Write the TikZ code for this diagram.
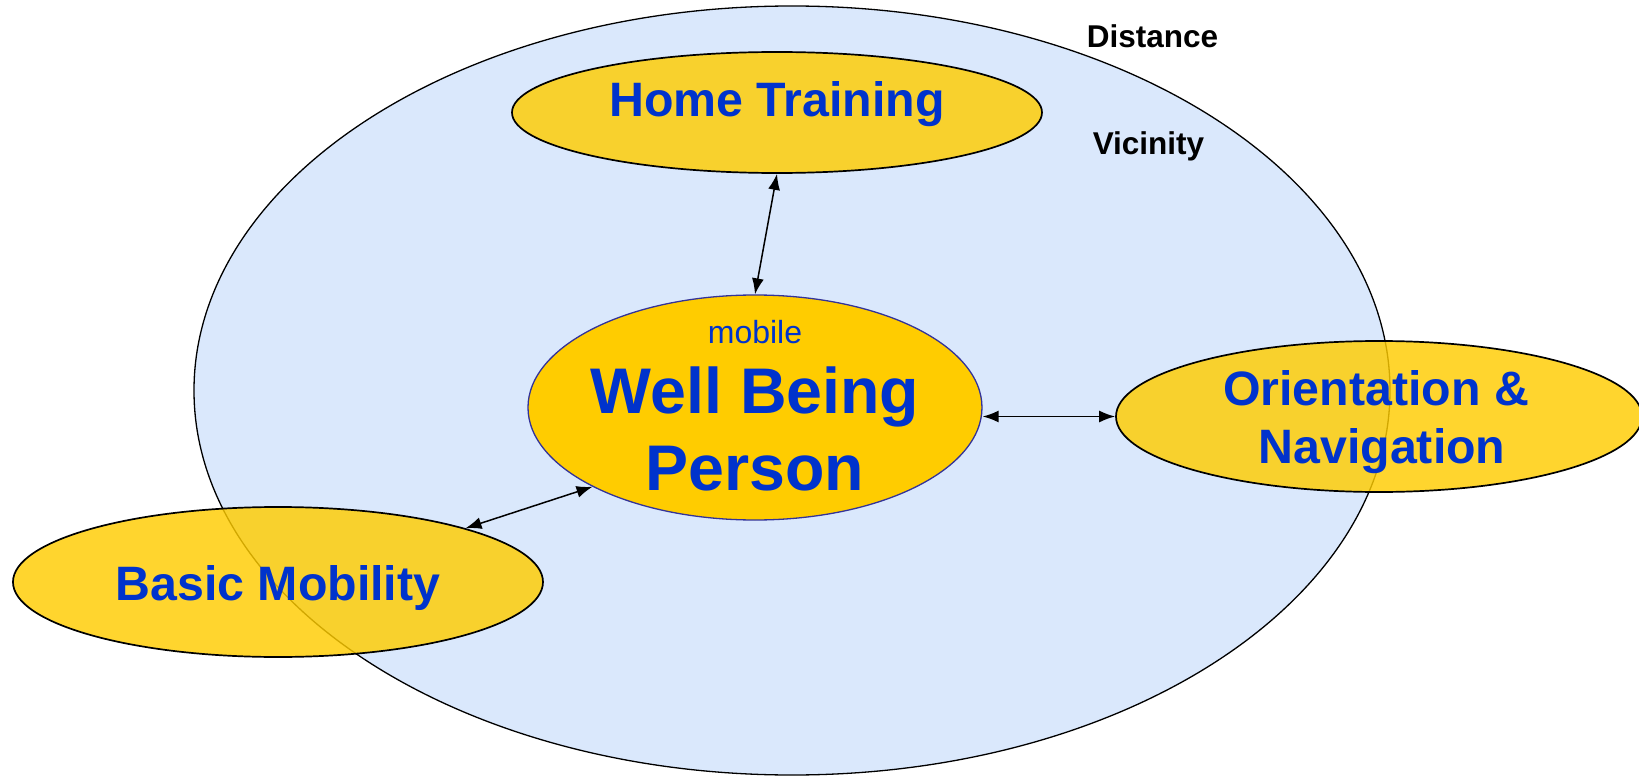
\documentclass[tikz,border=0pt]{standalone}
\usepackage{fontspec}
\setmainfont{Liberation Sans}
\usetikzlibrary{shapes.geometric, arrows.meta}

\definecolor{skyfill}{RGB}{218,232,252}
\definecolor{goldfill}{RGB}{255,204,0}
\definecolor{textblue}{RGB}{0,51,204}
\definecolor{rimblue}{RGB}{51,51,153}

\tikzstyle{vicinity} = [ellipse, minimum width=1196pt, minimum height=769pt, inner sep=0pt, draw=black, line width=1.3pt, fill=skyfill]
\tikzstyle{core} = [ellipse, minimum width=454pt, minimum height=225pt, inner sep=0pt, draw=rimblue, line width=1.3pt, fill=goldfill]
\tikzstyle{area} = [ellipse, minimum width=530pt, minimum height=150pt, inner sep=0pt, draw=black, line width=1.7pt, fill=goldfill, fill opacity=0.82, text opacity=1]
\tikzstyle{areatext} = [font=\fontsize{48.3}{58}\selectfont\bfseries, text=textblue, anchor=base, inner sep=0pt]
\tikzstyle{coretext} = [font=\fontsize{64.5}{77}\selectfont\bfseries, text=textblue, anchor=base, inner sep=0pt]
\tikzstyle{smalltext} = [font=\fontsize{32}{38}\selectfont, text=textblue, anchor=base, inner sep=0pt]
\tikzstyle{ringtext} = [font=\fontsize{31.5}{38}\selectfont\bfseries, text=black, anchor=base, inner sep=0pt]
\tikzstyle{arrow} = [line width=1.5pt, {Latex[length=16pt,width=12pt]}-{Latex[length=16pt,width=12pt]}]

\begin{document}
\begin{tikzpicture}[node distance=295pt]
\useasboundingbox (-755pt,-369.5pt) rectangle (884pt,407.5pt);

% rings and circles
\node (wide) [vicinity] at (37pt,17pt) {};
\node (well) [core] {};
\node (home) [area, above of=well, xshift=22pt, minimum height=121pt] {};
\node (orient) [area, right of=well, node distance=624pt, yshift=-9pt, minimum width=526pt, minimum height=151pt] {};
\node (basic) [area, left of=well, node distance=477pt, yshift=-174.5pt] {};

% texts
\node (hometxt) [areatext, yshift=-4.5pt] at (home) {Home Training};
\node (mobiletxt) [smalltext, yshift=64.5pt] at (well) {mobile};
\node (welltxt) [coretext, yshift=-5.5pt] at (well) {Well Being};
\node (persontxt) [coretext, yshift=-82.5pt] at (well) {Person};
\node (orienttxt) [areatext, xshift=-3pt, yshift=11.5pt] at (orient) {Orientation \&};
\node (navtxt) [areatext, xshift=3pt, yshift=-46.5pt] at (orient) {Navigation};
\node (basictxt) [areatext, yshift=-18pt] at (basic) {Basic Mobility};
\node (distancetxt) [ringtext] at (397.5pt,359.5pt) {Distance};
\node (vicinitytxt) [ringtext] at (393.5pt,252.5pt) {Vicinity};

% links
\draw [arrow] (home.south) -- (well.north);
\draw [arrow] (well.east |- orient.west) -- (orient.west);
\draw [arrow] (basic.16) -- (well.206);

\end{tikzpicture}
\end{document}
